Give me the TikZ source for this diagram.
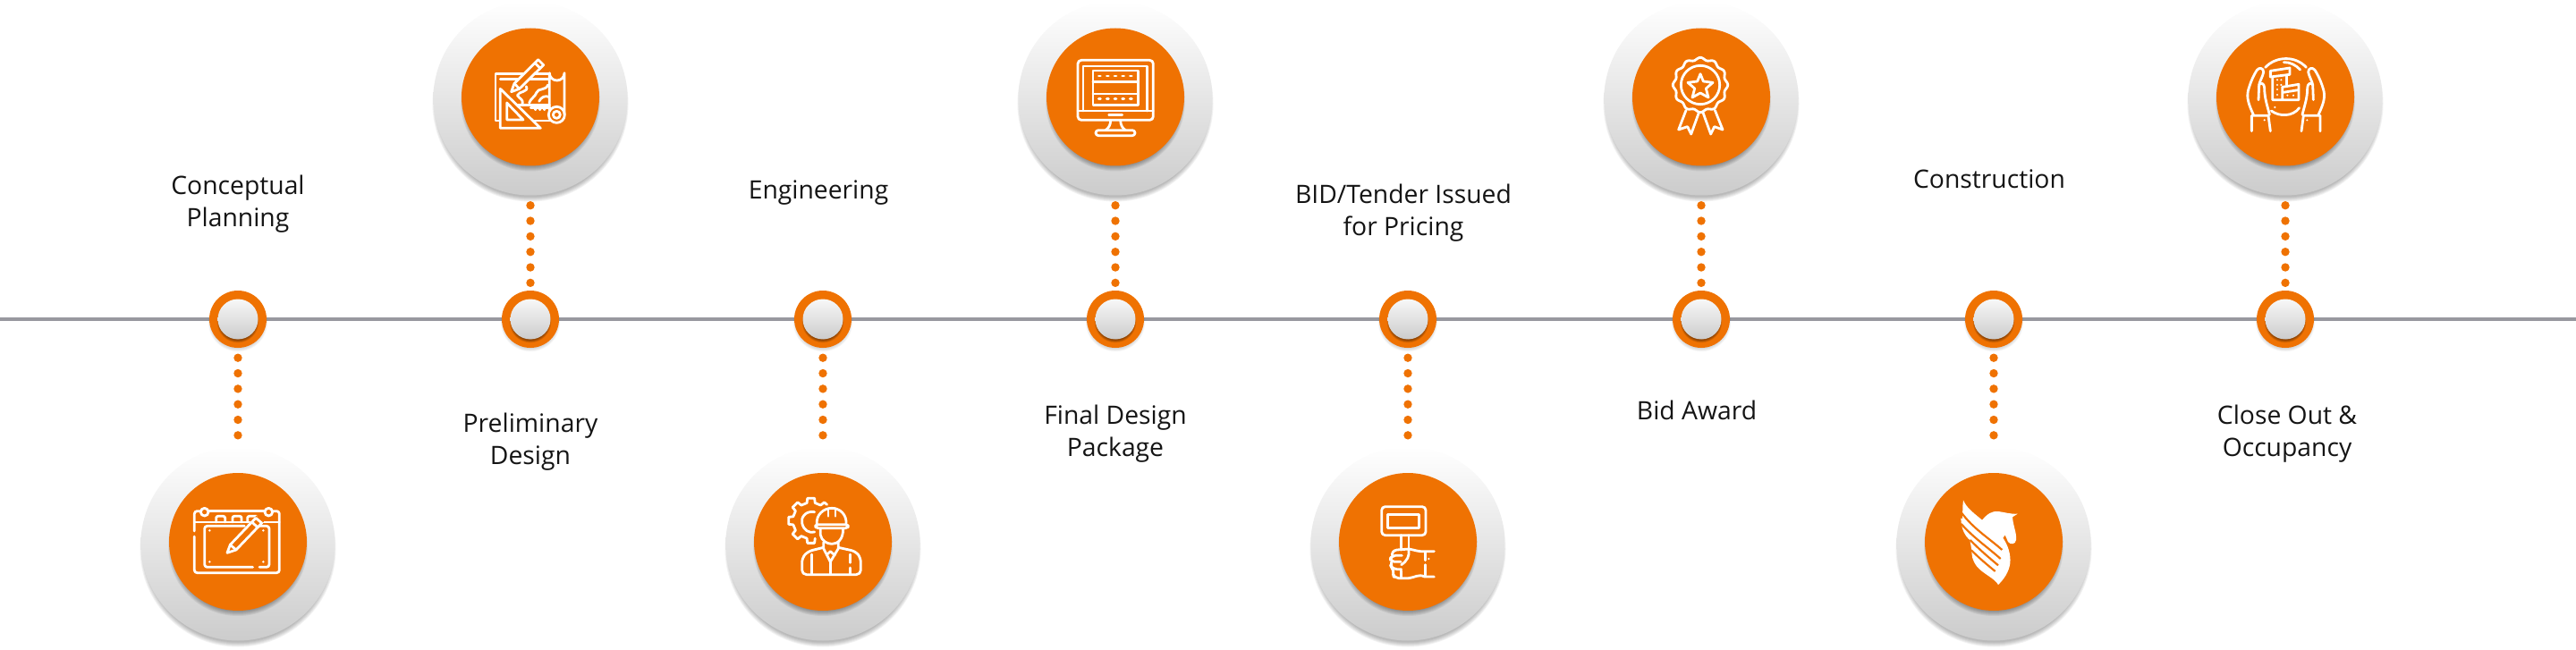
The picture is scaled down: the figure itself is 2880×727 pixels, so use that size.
\documentclass[tikz,border=0pt]{standalone}
\usepackage{fontspec}
\setmainfont{Open Sans}
\definecolor{brandorange}{HTML}{EF7202}
\definecolor{rail}{HTML}{98989F}
\definecolor{labeltext}{HTML}{141414}
\tikzset{
  outerdisc/.style={circle,inner sep=0pt,minimum size=217pt,top color=white,bottom color=black!20},
  orangedisc/.style={circle,inner sep=0pt,minimum size=154pt,fill=brandorange},
  pin/.style={circle,inner sep=0pt,minimum size=64pt,fill=brandorange},
  pincap/.style={circle,inner sep=0pt,minimum size=45pt,top color=black!3,bottom color=black!20},
  dotline/.style={brandorange,line width=9.4pt,line cap=round,dash pattern=on 0pt off 17.33pt,shorten <=11pt,shorten >=7pt},
  railline/.style={rail,line width=3.6pt},
  steplabel/.style={align=center,text=labeltext,font=\fontsize{28.3}{36.5}\selectfont,inner sep=0pt},
  iconat/.style 2 args={shift={(#1,#2)},x=0.33333pt,y=-0.33333pt,white,line width=2.8pt,line join=round,line cap=round},
}
\newcommand{\softdisc}[5]{%
  \foreach \q in {1,...,6}{%
    \fill[black,opacity=#5] (#1,#2) circle[radius=#3+#4-\q*#4/3];
  }}
\begin{document}
\begin{tikzpicture}[x=1pt,y=-1pt]
\useasboundingbox (0,0) rectangle (2880,727);
\coordinate (railL) at (0,357);
\coordinate (railR) at (2880,357);
\draw[railline] (railL) -- (railR);
\foreach \i/\x/\by/\oy in {1/266/608/606,2/593/110/108.5,3/920/608/606,4/1247/110/108.5,5/1574/608/606,6/1902/110/108.5,7/2229/608/606,8/2555/110/108.5}{
  \softdisc{\x}{\by+6}{107.5}{3}{0.05}
  \node[outerdisc] (b\i) at (\x,\by) {};
  \softdisc{\x}{\oy+5}{76}{3}{0.06}
  \node[orangedisc] (o\i) at (\x,\oy) {};
  \softdisc{\x}{360}{31.5}{2.5}{0.035}
  \node[pin] (s\i) at (\x,357) {};
  \softdisc{\x}{360}{22.2}{1.6}{0.08}
  \node[pincap] (c\i) at (\x,357) {};
}
\draw[dotline] (s1) -- (b1);
\draw[dotline] (b2) -- (s2);
\draw[dotline] (s3) -- (b3);
\draw[dotline] (b4) -- (s4);
\draw[dotline] (s5) -- (b5);
\draw[dotline] (b6) -- (s6);
\draw[dotline] (s7) -- (b7);
\draw[dotline] (b8) -- (s8);
\node[steplabel] (t1) at (266,228) {Conceptual\\Planning};
\node[steplabel] (t2) at (593,494) {Preliminary\\Design};
\node[steplabel] (t3) at (915,216) {Engineering};
\node[steplabel] (t4) at (1247,485) {Final Design\\Package};
\node[steplabel] (t5) at (1569,238) {BID/Tender Issued\\for Pricing};
\node[steplabel] (t6) at (1897,459) {Bid Award};
\node[steplabel] (t7) at (2224,200) {Construction};
\node[steplabel] (t8) at (2557,485) {Close Out \&\\Occupancy};
% icon 1: tablet
\begin{scope}[iconat={130}{300}]
\draw (262,882) -- (262,838) [rounded corners=3pt] -- (262,815) -- (285,815);
\draw (262,900) [rounded corners=3pt] -- (262,1022) -- (547,1022) -- (547,815) -- (522,815);
\draw (309,815) -- (498,815);
\draw (262,852) -- (547,852);
\draw (296,818) circle[radius=13];
\draw (511,818) circle[radius=13];
\draw[rounded corners=2pt] (335,852) -- (335,832) -- (365,832) -- (365,852);
\draw[rounded corners=2pt] (390,852) -- (390,832) -- (420,832) -- (420,852);
\draw[rounded corners=2pt] (440,852) -- (440,832) -- (470,832);
\draw[rounded corners=3pt] (458,1003) -- (296,1003) -- (296,865) -- (430,865);
\draw[rounded corners=3pt] (480,865) -- (513,865) -- (513,1003) -- (480,1003);
\fill[brandorange] (372,955) -- (378,925) -- (470,830) -- (495,850) -- (400,945) -- cycle;
\draw[fill=brandorange] (372,955) -- (382,928) -- (468,838) -- (488,855) -- (402,945) -- cycle;
\draw (382,928) -- (402,945);
\draw (455,852) -- (475,870);
\foreach \p in {(313,880),(493,880),(313,985),(493,985)} \fill \p circle[radius=4];
\end{scope}
% icon 2: blueprint
\begin{scope}[iconat={460}{0}]
\draw (298,405) -- (282,405) -- (282,248) -- (463,248);
\draw (298,265) -- (463,265);
\draw (463,370) -- (463,245) arc[start angle=180,end angle=0,radius=25] -- (513,385);
\draw (487,385) circle[radius=27];
\draw (487,385) circle[radius=12];
\draw (470,405) -- (400,405);
\draw (385,290) .. controls (395,310) and (360,305) .. (355,320) .. controls (365,335) and (375,330) .. (372,350);
\draw (458,285) .. controls (450,305) and (425,295) .. (420,310) .. controls (415,325) and (400,330) .. (395,345);
\draw (428,340) .. controls (435,325) and (450,320) .. (460,325);
\draw (345,352) -- (463,352);
\draw (400,362) -- (465,362);
\draw (415,368) -- (417,368) (430,368) -- (432,368) (445,368) -- (447,368);
\draw[fill=brandorange] (298,298) -- (298,430) -- (433,430) -- cycle;
\draw (320,345) -- (320,402) -- (375,402) -- cycle;
\draw[fill=brandorange] (335,308) -- (345,280) -- (425,200) -- (443,218) -- (362,298) -- cycle;
\draw (345,280) -- (362,298);
\draw (415,212) -- (432,229);
\end{scope}
% icon 3: engineer
\begin{scope}[iconat={800}{500}]
\begin{scope}[shift={(320,247)}]
\draw (-45:76) -- (-54:76) -- (-58:61) \foreach \a in {-90,-135,-180,-225,-270}{ -- (\a+13:61) -- (\a+9:76) -- (\a-9:76) -- (\a-13:61) };
\end{scope}
\fill[brandorange] (332,300) -- (345,200) -- (440,200) -- (440,300) -- cycle;
\draw (332,218) .. controls (300,212) and (285,240) .. (290,255) .. controls (295,280) and (315,290) .. (332,285);
\draw (340,262) .. controls (335,225) and (365,205) .. (390,205) .. controls (415,205) and (442,225) .. (438,262);
\draw[rounded corners=3pt] (335,260) -- (445,260) -- (445,272) -- (335,272) -- cycle;
\draw (378,206) -- (378,232) (402,206) -- (402,232);
\draw (352,274) -- (352,295) .. controls (355,315) and (375,325) .. (390,325) .. controls (408,325) and (428,312) .. (428,274);
\draw (362,320) -- (362,340) -- (385,385) -- (412,340) -- (412,320);
\draw[rounded corners=5pt] (362,337) -- (310,350) -- (290,372) -- (290,428) -- (487,428) -- (487,372) -- (470,350) -- (412,337);
\draw (322,360) -- (322,425);
\draw (452,360) -- (452,388) (452,405) -- (452,425);
\draw (372,363) -- (385,350) -- (400,363);
\draw (385,385) -- (385,425);
\end{scope}
% icon 4: monitor
\begin{scope}[iconat={1130}{0}]
\draw[rounded corners=4pt] (225,202) rectangle (478,403);
\draw (225,372) -- (478,372);
\draw (243,372) -- (243,222) -- (458,222) -- (458,372);
\draw (276,237) rectangle (428,352);
\draw (276,275) -- (428,275);
\draw (276,315) -- (428,315);
\foreach \u in {298,325,351,377,403}{
  \draw (\u-3,255) -- (\u+3,255);
  \draw (\u-3,332) -- (\u+3,332);
}
\draw (329,385) -- (374,385);
\draw (335,403) .. controls (335,420) and (328,430) .. (318,437);
\draw (368,403) .. controls (368,420) and (375,430) .. (385,437);
\draw[rounded corners=3pt] (285,437) rectangle (417,455);
\end{scope}
% icon 5: paddle
\begin{scope}[iconat={1460}{500}]
\draw[rounded corners=4pt] (254,200) rectangle (402,296);
\draw (274,226) rectangle (380,272);
\draw (319,296) -- (319,345);
\draw (345,296) -- (345,342);
\draw (430,350) -- (400,350) .. controls (380,352) and (365,346) .. (347,342) -- (305,345) .. controls (292,348) and (288,355) .. (290,365);
\draw[rounded corners=5pt] (322,364) -- (285,364) -- (282,385) -- (318,385);
\draw[rounded corners=5pt] (287,385) -- (285,400) -- (290,410) -- (320,410);
\draw[rounded corners=5pt] (293,410) -- (291,422) -- (296,440) -- (345,440);
\draw (345,440) .. controls (365,438) and (378,425) .. (398,435) -- (430,435);
\draw (345,345) .. controls (348,365) and (340,382) .. (320,395);
\draw (320,415) -- (320,440);
\draw (400,355) -- (400,380) (400,395) -- (400,430);
\fill (412,375) circle[radius=3.5];
\end{scope}
% icon 6: medal
\begin{scope}[iconat={1780}{0}]
\draw[domain=0:360,samples=200,smooth] plot ({363+(88+4*cos(12*\x))*cos(\x)},{285+(88+4*cos(12*\x))*sin(\x)}) -- cycle;
\draw (363,285) circle[radius=65];
\draw (363,248) -- (373,273) -- (405,277) -- (382,297) -- (390,327) -- (363,312) -- (336,327) -- (344,297) -- (321,277) -- (353,273) -- cycle;
\draw (315,370) -- (290,435) -- (320,425) -- (332,450) -- (358,378);
\draw (372,378) -- (398,450) -- (410,425) -- (438,435) -- (412,370);
\end{scope}
% icon 7: pegasus
\begin{scope}[iconat={2110}{500}]
\fill (255,178) .. controls (265,205) and (295,225) .. (318,245) .. controls (335,225) and (350,214) .. (372,216) .. controls (390,218) and (415,226) .. (437,224) -- (420,235) .. controls (422,265) and (435,290) .. (432,312) .. controls (430,328) and (412,328) .. (405,318) -- (395,295) -- (388,305) .. controls (405,330) and (415,360) .. (412,390) .. controls (408,420) and (390,445) .. (372,462) .. controls (360,440) and (320,425) .. (300,400) .. controls (285,380) and (283,365) .. (283,345) -- (277,312) .. controls (262,300) and (247,275) .. (247,238) .. controls (256,255) and (250,210) .. (255,178) -- cycle;
\draw[brandorange,line width=2.2pt,line cap=butt] (250,222) .. controls (290,275) and (340,305) .. (385,345);
\draw[brandorange,line width=2.2pt,line cap=butt] (248,258) .. controls (290,305) and (335,335) .. (380,375);
\draw[brandorange,line width=2.2pt,line cap=butt] (278,312) .. controls (310,345) and (340,370) .. (372,397);
\draw[brandorange,line width=2.2pt,line cap=butt] (282,346) .. controls (305,370) and (335,395) .. (362,417);
\end{scope}
% icon 8: hands and building
\begin{scope}[iconat={2440}{0}]
\draw (278,226) .. controls (315,187) and (380,187) .. (415,226);
\draw (340,209) .. controls (360,208) and (380,218) .. (395,234);
\draw (298,372) .. controls (325,392) and (370,392) .. (392,362);
\fill (310,360) circle[radius=3.5];
\draw (232,440) -- (232,388) -- (288,388) -- (295,440);
\draw (462,440) -- (462,388) -- (406,388) -- (399,440);
\fill (275,403) circle[radius=3.5];
\fill (418,403) circle[radius=3.5];
\draw (238,385) .. controls (222,350) and (215,330) .. (220,305) .. controls (228,275) and (240,250) .. (250,235) .. controls (258,225) and (272,228) .. (272,242) .. controls (270,255) and (258,275) .. (257,285) -- (255,335);
\draw (257,285) .. controls (262,275) and (275,280) .. (275,295) .. controls (275,330) and (285,355) .. (292,385);
\draw (456,385) .. controls (472,350) and (479,330) .. (474,305) .. controls (466,275) and (454,250) .. (444,235) .. controls (436,225) and (422,228) .. (422,242) .. controls (424,255) and (436,275) .. (437,285) -- (439,335);
\draw (437,285) .. controls (432,275) and (419,280) .. (419,295) .. controls (419,330) and (409,355) .. (402,385);
\draw (295,238) -- (360,228) -- (360,250) -- (295,258) -- cycle;
\draw (302,258) -- (302,335) -- (390,335) -- (390,283) -- (335,292) -- (335,335);
\draw (350,252) -- (350,285);
\draw (338,310) -- (388,302);
\foreach \p in {(318,268),(331,268),(318,285),(331,285),(318,300),(318,318),(352,320),(372,320)} \fill \p circle[radius=3.5];
\end{scope}
\end{tikzpicture}
\end{document}
